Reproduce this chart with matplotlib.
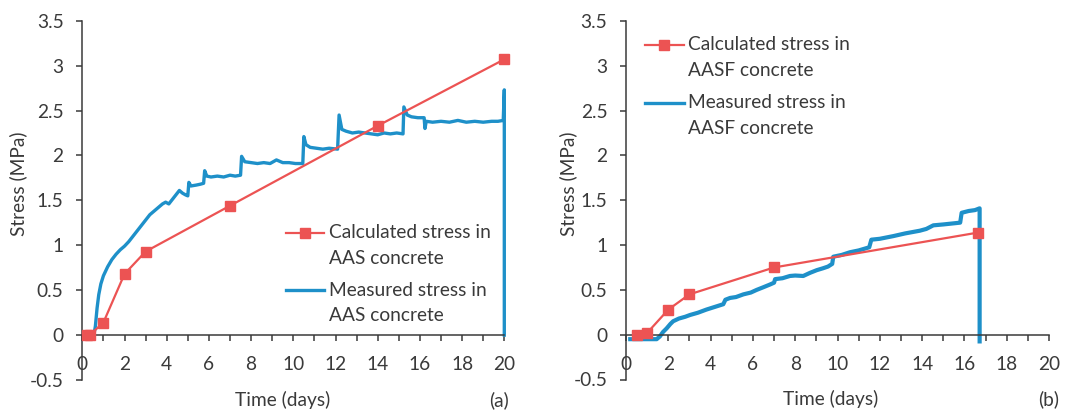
import matplotlib
matplotlib.use('Agg')
import matplotlib.pyplot as plt
from matplotlib.ticker import MultipleLocator, FuncFormatter
from matplotlib.lines import Line2D

FONT = ['Lato', 'DejaVu Sans']
plt.rcParams['font.family'] = FONT

# ---------------- data ----------------
calc_a_days = [0.2, 0.35, 1, 2, 3, 7, 14, 20]
calc_a_stress = [0, 0, 0.14, 0.68, 0.93, 1.44, 2.33, 3.07]

meas_a_days = [0.45, 0.55, 0.62, 0.7, 0.78, 0.88, 1.0, 1.2, 1.4, 1.6, 1.8, 2.0, 2.2, 2.4, 2.6,
               2.8, 3.0, 3.2, 3.4, 3.6, 3.8, 3.95, 4.1, 4.3, 4.5, 4.6, 4.75, 4.9, 5.0, 5.05,
               5.15, 5.4, 5.6, 5.75, 5.8, 5.9, 6.1, 6.4, 6.7, 7.0, 7.25, 7.5, 7.55, 7.7, 8.0,
               8.3, 8.6, 8.9, 9.2, 9.5, 9.8, 10.1, 10.45, 10.5, 10.6, 10.8, 11.1, 11.4, 11.7,
               12.1, 12.17, 12.3, 12.5, 12.8, 13.1, 13.4, 13.7, 14.0, 14.3, 14.6, 14.9, 15.2,
               15.24, 15.4, 15.6, 15.9, 16.2, 16.24, 16.3, 16.6, 17.0, 17.4, 17.8, 18.2, 18.6,
               19.0, 19.4, 19.7, 19.95, 20.0, 20.0]
meas_a_stress = [0, 0, 0.10, 0.30, 0.45, 0.57, 0.66, 0.76, 0.84, 0.90, 0.95, 0.99, 1.04, 1.10, 1.16,
                 1.22, 1.28, 1.34, 1.38, 1.42, 1.46, 1.48, 1.46, 1.52, 1.58, 1.61, 1.58, 1.56, 1.55, 1.70,
                 1.66, 1.67, 1.68, 1.69, 1.83, 1.77, 1.76, 1.77, 1.76, 1.78, 1.77, 1.78, 1.99, 1.93, 1.92,
                 1.91, 1.92, 1.91, 1.95, 1.92, 1.92, 1.91, 1.91, 2.21, 2.12, 2.09, 2.08, 2.07, 2.08,
                 2.07, 2.45, 2.29, 2.27, 2.25, 2.26, 2.25, 2.24, 2.23, 2.25, 2.24, 2.25, 2.24,
                 2.54, 2.45, 2.43, 2.42, 2.42, 2.30, 2.38, 2.37, 2.38, 2.37, 2.39, 2.37, 2.38,
                 2.37, 2.38, 2.38, 2.39, 2.73, 0.0]

calc_b_days = [0.5, 1, 2, 3, 7, 16.66]
calc_b_stress = [0, 0.02, 0.28, 0.45, 0.75, 1.14]

meas_b_days = [0.2, 0.5, 0.8, 1.1, 1.45, 1.6, 1.75, 1.92, 2.1, 2.23, 2.5, 2.8, 3.03, 3.4, 3.8,
               4.2, 4.6, 4.7, 4.92, 5.2, 5.55, 5.9, 6.18, 6.5, 6.81, 7.0, 7.05, 7.4, 7.75, 8.0,
               8.38, 8.7, 9.02, 9.3, 9.55, 9.75, 9.8, 10.2, 10.59, 11.0, 11.5, 11.6, 12.0, 12.64,
               13.2, 13.89, 14.2, 14.53, 15.0, 15.4, 15.8, 15.87, 16.2, 16.5, 16.72, 16.72]
meas_b_stress = [-0.05, -0.05, -0.05, -0.05, -0.05, -0.02, 0.03, 0.07, 0.12, 0.15, 0.18, 0.20, 0.22, 0.245, 0.28,
                 0.31, 0.34, 0.39, 0.41, 0.42, 0.45, 0.47, 0.50, 0.53, 0.56, 0.58, 0.62, 0.63, 0.655, 0.66,
                 0.655, 0.69, 0.72, 0.74, 0.76, 0.79, 0.87, 0.89, 0.92, 0.94, 0.975, 1.06, 1.07, 1.10,
                 1.13, 1.16, 1.18, 1.22, 1.23, 1.24, 1.25, 1.36, 1.38, 1.39, 1.41, -0.075]

x_ticks = [0, 2, 4, 6, 8, 10, 12, 14, 16, 18, 20]
y_ticks = [-0.5, 0, 0.5, 1, 1.5, 2, 2.5, 3, 3.5]

legend_a = ["Calculated stress in", "AAS concrete", "Measured stress in", "AAS concrete"]
legend_b = ["Calculated stress in", "AASF concrete", "Measured stress in", "AASF concrete"]
xlabel = "Time (days)"
ylabel = "Stress (MPa)"

# ---------------- style ----------------
RED = '#EC5353'
BLUE = '#1E90C9'
INK = '#3a3a3a'
W, H = 1065, 412

fig = plt.figure(figsize=(W / 100, H / 100), dpi=100)

# fit font size to reference text width
fig.canvas.draw()
r = fig.canvas.get_renderer()
t = fig.text(0, 0, "Calculated stress in", fontsize=14)
w = t.get_window_extent(r).width
FS = 14 * 162 / w
t.remove()


def fx(px):
    return px / W


def fy(py):
    return 1 - py / H


def setup(ax):
    ax.set_xlim(0, 20)
    ax.set_ylim(-0.5, 3.5)
    for s in ('top', 'right'):
        ax.spines[s].set_visible(False)
    ax.spines['bottom'].set_position(('data', 0))
    for s in ('bottom', 'left'):
        ax.spines[s].set_linewidth(1.1)
        ax.spines[s].set_color(INK)
    ax.set_xticks(x_ticks)
    ax.xaxis.set_minor_locator(MultipleLocator(1))
    ax.set_yticks(y_ticks)
    ax.yaxis.set_major_formatter(FuncFormatter(lambda v, p: '%g' % v))
    ax.tick_params(axis='x', which='both', direction='out', length=4, width=1.1,
                   color=INK, labelsize=FS, labelcolor=INK, pad=11)
    ax.tick_params(axis='y', which='major', direction='out', length=4.5, width=1.1,
                   color=INK, labelsize=FS, labelcolor=INK, pad=9)
    ax.patch.set_visible(False)


axA = fig.add_axes([fx(82.3), fy(380), (504.3 - 82.3) / W, (380 - 20.7) / H])
axB = fig.add_axes([fx(626), fy(379.5), (1049 - 626) / W, (379.5 - 21) / H])
for ax in (axA, axB):
    setup(ax)

axA.plot(meas_a_days, meas_a_stress, color=BLUE, lw=2.4, clip_on=False, zorder=2)
axA.plot(calc_a_days, calc_a_stress, color=RED, lw=1.6, marker='s', ms=7,
         mfc=RED, mec=RED, clip_on=False, zorder=3)

axB.plot(meas_b_days, meas_b_stress, color=BLUE, lw=3.0, clip_on=False, zorder=2)
axB.plot(calc_b_days, calc_b_stress, color=RED, lw=1.6, marker='s', ms=7,
         mfc=RED, mec=RED, clip_on=False, zorder=3)


def legend(x0, x1, xt, ys, labels):
    xm = (x0 + x1) / 2
    fig.add_artist(Line2D([fx(x0), fx(x1)], [fy(ys[0]), fy(ys[0])], color=RED, lw=1.6))
    fig.add_artist(Line2D([fx(xm)], [fy(ys[0])], color=RED, marker='s', ms=7, lw=0))
    fig.add_artist(Line2D([fx(x0), fx(x1)], [fy(ys[2]), fy(ys[2])], color=BLUE, lw=2.4))
    for y, s in zip(ys, labels):
        fig.text(fx(xt), fy(y), s, fontsize=FS, color=INK, ha='left', va='center')


legend(286, 324, 329, [233, 259, 290, 315.5], legend_a)
legend(645, 684, 688, [45, 70.3, 102.9, 128.2], legend_b)

fig.text(fx(283), fy(400), xlabel, fontsize=FS, color=INK, ha='center', va='center')
fig.text(fx(499), fy(400), "(a)", fontsize=FS, color=INK, ha='center', va='center')
fig.text(fx(831), fy(399), xlabel, fontsize=FS, color=INK, ha='center', va='center')
fig.text(fx(1048.5), fy(399), "(b)", fontsize=FS, color=INK, ha='center', va='center')
fig.text(fx(18.4), fy(183.5), ylabel, fontsize=FS, color=INK, ha='center', va='center', rotation=90)
fig.text(fx(568), fy(184), ylabel, fontsize=FS, color=INK, ha='center', va='center', rotation=90)

fig.savefig('out.png', dpi=100)
